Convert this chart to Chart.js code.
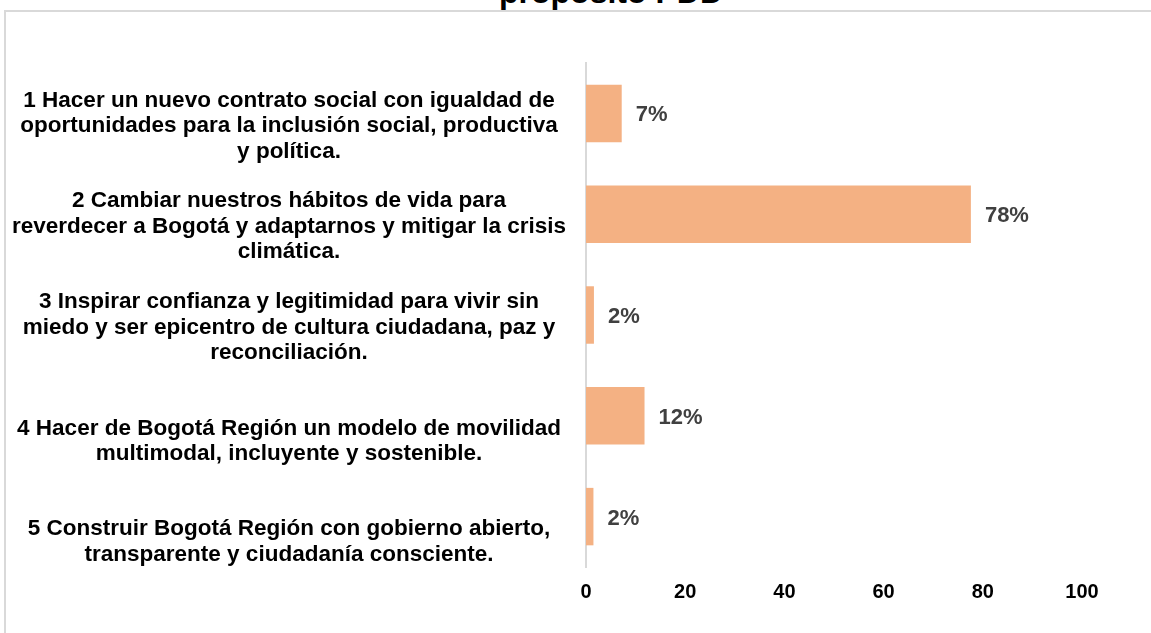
<!DOCTYPE html>
<html lang="es">
<head>
    <meta charset="UTF-8">
    <title>propósito PDD</title>
    <script src="https://cdn.jsdelivr.net/npm/chart.js"></script>
    <style>
        html, body {
            margin: 0;
            overflow: hidden;
        }
        body {
            width: 1151px;
            height: 633px;
            background: white;
            font-family: 'Liberation Sans', Arial, sans-serif;
            position: relative;
        }
        .frame {
            position: absolute;
            left: 4px;
            top: 10px;
            width: 1147px;
            height: 623px;
            border-top: 2px solid #d9d9d9;
            border-left: 2px solid #d9d9d9;
            box-sizing: border-box;
        }
        .title {
            position: absolute;
            left: 0;
            width: 1222px;
            top: -24px;
            line-height: 32px;
            text-align: center;
            font-weight: bold;
            font-size: 32px;
            color: #000;
        }
        #chart {
            position: absolute;
            left: 0;
            top: 0;
        }
    </style>
</head>
<body>
    <div class="frame"></div>
    <div class="title">propósito PDD</div>
    <canvas id="chart" width="1151" height="633"></canvas>

    <script>
        // categorias (lineas de cada etiqueta)
        const categorias = [
            ["1 Hacer un nuevo contrato social con igualdad de", "oportunidades para la inclusión social, productiva", "y política."],
            ["2 Cambiar nuestros hábitos de vida para", "reverdecer a Bogotá y adaptarnos y mitigar la crisis", "climática."],
            ["3 Inspirar confianza y legitimidad para vivir sin", "miedo y ser epicentro de cultura ciudadana, paz y", "reconciliación."],
            ["", "4 Hacer de Bogotá Región un modelo de movilidad", "multimodal, incluyente y sostenible."],
            ["", "5 Construir Bogotá Región con gobierno abierto,", "transparente y ciudadanía consciente."]
        ];
        const porcentajes = [7.2, 77.6, 1.6, 11.8, 1.5];
        const ticksX = [0, 20, 40, 60, 80, 100];

        const etiquetas = {
            id: 'etiquetas',
            afterDatasetsDraw(chart) {
                const ctx = chart.ctx;
                const meta = chart.getDatasetMeta(0);
                ctx.save();
                ctx.font = "bold 22px 'Liberation Sans', Arial, sans-serif";
                ctx.fillStyle = '#404040';
                ctx.textAlign = 'left';
                ctx.textBaseline = 'middle';
                meta.data.forEach((bar, i) => {
                    ctx.fillText(Math.round(porcentajes[i]) + '%', bar.x + 14, bar.y + 2);
                });
                ctx.restore();
            }
        };

        new Chart(document.getElementById('chart'), {
            type: 'bar',
            data: {
                labels: categorias,
                datasets: [{
                    data: porcentajes,
                    backgroundColor: '#f4b183',
                    borderWidth: 0,
                    categoryPercentage: 1,
                    barPercentage: 0.57
                }]
            },
            options: {
                indexAxis: 'y',
                responsive: false,
                animation: false,
                layout: { padding: { left: 6, right: 69, top: 63, bottom: 0 } },
                plugins: {
                    legend: { display: false },
                    tooltip: { enabled: false }
                },
                scales: {
                    x: {
                        min: 0,
                        max: 100,
                        afterBuildTicks: (s) => { s.ticks = ticksX.map(v => ({ value: v })); },
                        afterFit: (s) => { s.height = 66; },
                        grid: { display: false, drawTicks: false },
                        border: { display: false },
                        ticks: {
                            padding: 13,
                            color: '#000',
                            font: { family: "'Liberation Sans', Arial, sans-serif", size: 20, weight: 'bold' }
                        }
                    },
                    y: {
                        afterFit: (s) => { s.width = 580; },
                        grid: { display: false, drawTicks: false },
                        border: { display: true, color: '#d9d9d9', width: 2 },
                        ticks: {
                            padding: 20,
                            crossAlign: 'center',
                            labelOffset: 12.5,
                            color: '#000',
                            font: { family: "'Liberation Sans', Arial, sans-serif", size: 22.5, weight: 'bold', lineHeight: 1.13 }
                        }
                    }
                }
            },
            plugins: [etiquetas]
        });
    </script>
</body>
</html>
